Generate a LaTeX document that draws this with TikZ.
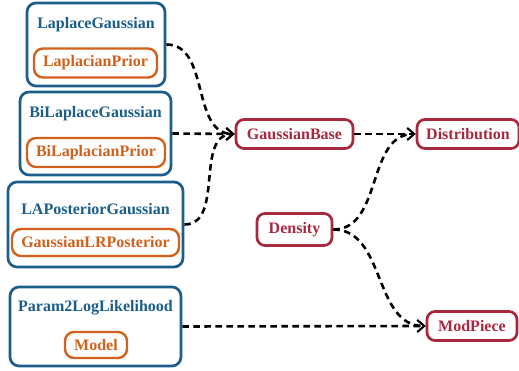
\documentclass[tikz,border=0pt]{standalone}
\usepackage{fontspec}
\setmainfont{Liberation Serif}
\usetikzlibrary{arrows.meta}
\definecolor{cblue}{HTML}{1B5E8C}
\definecolor{corange}{HTML}{D2601A}
\definecolor{cred}{HTML}{A8283E}
\tikzset{
  outerbox/.style={draw=cblue, line width=2.7pt, rounded corners=9pt, fill=white, inner sep=0pt},
  innerbox/.style={draw=corange, line width=2.4pt, rounded corners=9pt, text=corange, font=\fontsize{16}{18}\selectfont\bfseries, inner sep=0pt, minimum height=29pt},
  titletext/.style={text=cblue, font=\fontsize{16}{18}\selectfont\bfseries, inner sep=0pt},
  classbox/.style={draw=cred, line width=2.7pt, rounded corners=8pt, text=cred, font=\fontsize{16}{18}\selectfont\bfseries, inner sep=0pt, minimum height=29pt},
  dep/.style={draw=black, line width=2.6pt, dash pattern=on 6.5pt off 4.5pt, -{Straight Barb[length=7pt,width=12pt,line width=1.8pt]}},
}
\begin{document}
\begin{tikzpicture}[x=1pt,y=-1pt]
\useasboundingbox (0,0) rectangle (519,371);
% LaplaceGaussian
\node[outerbox, minimum width=138pt, minimum height=83pt] (lg) at (96,44.5) {};
\node[titletext] (lgt) at (96,25) {LaplaceGaussian};
\node[innerbox, minimum width=123pt] (lgi) at (95.5,63) {LaplacianPrior};
% BiLaplaceGaussian
\node[outerbox, minimum width=151pt, minimum height=83pt] (blg) at (95.5,133.5) {};
\node[titletext] (blgt) at (95.5,114) {BiLaplaceGaussian};
\node[innerbox, minimum width=138pt] (blgi) at (96,152.5) {BiLaplacianPrior};
% LAPosteriorGaussian
\node[outerbox, minimum width=175pt, minimum height=85pt] (lap) at (95.5,224.5) {};
\node[titletext] (lapt) at (95.5,209) {LAPosteriorGaussian};
\node[innerbox, minimum width=167pt, minimum height=27pt] (lapi) at (95.5,242.5) {GaussianLRPosterior};
% Param2LogLikelihood
\node[outerbox, minimum width=171pt, minimum height=79pt] (p2l) at (95.5,326.5) {};
\node[titletext] (p2lt) at (95.5,308) {Param2LogLikelihood};
\node[innerbox, minimum width=62pt, minimum height=26pt] (p2li) at (96,345) {Model};
% classes
\node[classbox, minimum width=117pt] (gb) at (294.5,134) {GaussianBase};
\node[classbox, minimum width=102pt] (dist) at (468,134) {Distribution};
\node[classbox, minimum width=75pt, minimum height=32pt] (dens) at (294.5,229.5) {Density};
\node[classbox, minimum width=90pt] (mp) at (472,326) {ModPiece};
% edges
\draw[dep] (lg.east) to[out=0,in=180] (gb.west);
\draw[dep] (blg.east) -- (gb.west);
\draw[dep] (lap.east) to[out=0,in=180] (gb.west);
\draw[dep] (gb.east) -- (dist.west);
\draw[dep] (dens.east) to[out=0,in=180] (dist.west);
\draw[dep] (dens.east) to[out=0,in=180] (mp.west);
\draw[dep] (p2l.east) -- (mp.west);
\end{tikzpicture}
\end{document}
